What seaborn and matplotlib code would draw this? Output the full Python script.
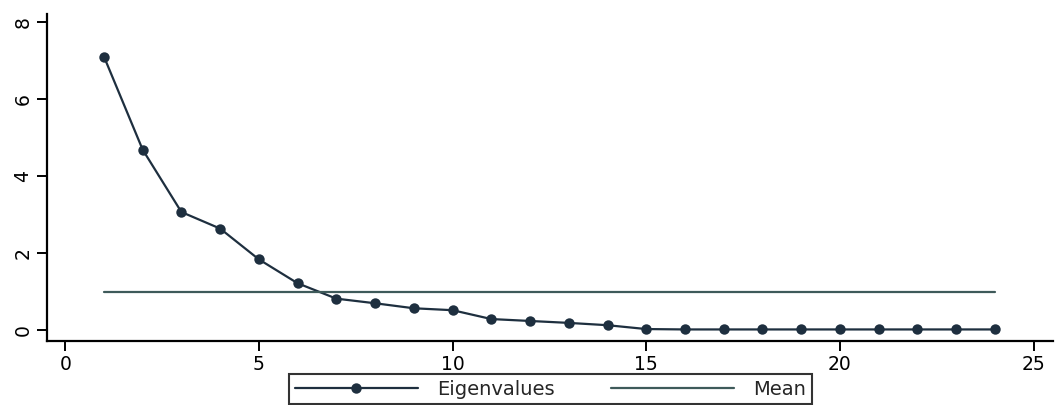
import pandas as pd
import matplotlib
matplotlib.use("Agg")
from matplotlib import pyplot as plt
import seaborn as sns

# scree plot values
components = list(range(1, 25))
eigenvalues = [7.10, 4.68, 3.06, 2.63, 1.83, 1.21, 0.81, 0.69, 0.56, 0.51, 0.28, 0.23,
               0.18, 0.12, 0.02, 0.01, 0.01, 0.01, 0.01, 0.01, 0.01, 0.01, 0.01, 0.01]
mean_x = [1, 24]
mean_y = [0.98, 0.98]
x_ticks = [0, 5, 10, 15, 20, 25]
y_ticks = [0, 2, 4, 6, 8]

df = pd.DataFrame({"component": components, "eigenvalue": eigenvalues})
df_mean = pd.DataFrame({"component": mean_x, "eigenvalue": mean_y})

sns.set_style("ticks")
plt.rcParams["font.family"] = ["DejaVu Sans"]

fig = plt.figure(figsize=(10.63, 4.05), dpi=100)
ax = fig.add_axes([0.0442, 0.159, 0.9464, 0.806])

sns.lineplot(data=df, x="component", y="eigenvalue", ax=ax, color="#1e2f3f",
             linewidth=1.6, marker="o", markersize=7.5, markeredgewidth=0,
             label="Eigenvalues")
sns.lineplot(data=df_mean, x="component", y="eigenvalue", ax=ax, color="#3e5a5a",
             linewidth=1.6, label="Mean")

ax.set_xlim(-0.47, 25.5)
ax.set_ylim(-0.28, 8.2)
ax.set_xticks(x_ticks)
ax.set_yticks(y_ticks)
ax.set_xlabel("")
ax.set_ylabel("")
sns.despine(ax=ax)
for side in ["left", "bottom"]:
    ax.spines[side].set_linewidth(1.6)
    ax.spines[side].set_color("black")
ax.tick_params(axis="both", direction="out", length=7, width=1.4, colors="black",
               labelsize=13.5)
for lab in ax.get_yticklabels():
    lab.set_rotation(90)
    lab.set_va("center")

ax.get_legend().remove()
handles, labels = ax.get_legend_handles_labels()
leg = fig.legend(handles, labels, loc="upper center", bbox_to_anchor=(0.518, 0.077),
                 borderaxespad=0, ncol=2, frameon=True, fancybox=False, fontsize=14,
                 handlelength=6.3, handletextpad=1.0, columnspacing=2.9,
                 borderpad=0.3, numpoints=1)
leg.get_frame().set_edgecolor("black")
leg.get_frame().set_linewidth(1.5)

plt.savefig("out.png", dpi=100)
